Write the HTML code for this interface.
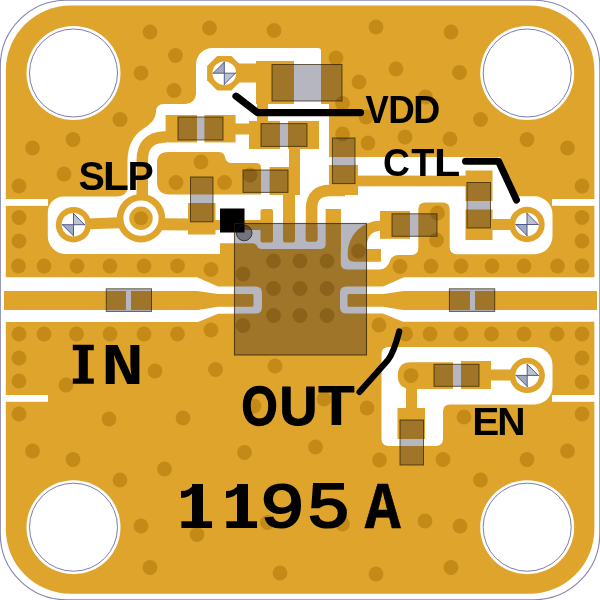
<!DOCTYPE html>
<html><head><meta charset="utf-8"><title>1195A evaluation board</title>
<style>
html,body{margin:0;padding:0;background:#fff;}
body{width:600px;height:600px;overflow:hidden;font-family:"Liberation Sans",sans-serif;}
svg{display:block;}
</style></head><body>
<svg width="600" height="600" viewBox="0 0 600 600">
<defs><filter id="soft" x="-2%" y="-2%" width="104%" height="104%" color-interpolation-filters="sRGB"><feGaussianBlur stdDeviation="0.42"/></filter></defs>
<rect width="600" height="600" fill="#fff"/>
<g filter="url(#soft)">
<rect x="0.3" y="0.3" width="599.5" height="599.5" rx="66" ry="66" fill="#fff" stroke="#8585B0" stroke-width="1.1"/>
<rect x="5.8" y="5.5" width="588.6" height="588.3" rx="65" ry="65" fill="#DEA42C"/>
<g fill="#fff"><circle cx="73.5" cy="73" r="47"/>
<circle cx="527.2" cy="73" r="47"/>
<circle cx="73.5" cy="527.2" r="47"/>
<circle cx="527.2" cy="527.2" r="47"/>
<rect x="4" y="199" width="44" height="6.8"/>
<rect x="552" y="199" width="44" height="6.8"/>
<rect x="4" y="395" width="44" height="6.8"/>
<rect x="552" y="395" width="44" height="6.8"/>
<path d="M4,277.3 L197,277.3 L218,286.4 L255.5,286.6 Q262,286.6 262,293 L262,307 Q262,313.6 255.5,313.6 L218,313.8 L198,322 L4,322 Z"/>
<path d="M597,277.3 L404,277.3 L383,286.4 L346.5,286.6 Q340,286.6 340,293 L340,307 Q340,313.6 346.5,313.6 L383,313.6 L403,321.8 L597,321.8 Z"/>
<path d="M212.5,48 L318,48 Q321,48 321,51 L321,104 L329,104 L329,157 L500,157 L516,196.3 L534.5,196.3 A18,18 0 0 1 552.5,214.3 L552.5,236.2 A18,18 0 0 1 534.5,254.2 L457,254.2 Q449.7,254.2 449.7,247 L449.7,209.5 Q449.7,202.5 442.7,202.5 L425.3,202.5 Q418.3,202.5 418.3,209.5 L418.3,248 Q418.3,255 411.3,255 L399,255 Q392,255 390,260.5 Q387.5,269.5 379,269.5 L347,269.5 Q340.8,269.5 340.8,263 L340.8,209 L325.8,209 L325.8,244 Q325.8,249 320,249 L262,249 Q258,249 257,246 Q256,243.3 252,243.3 L220,243.3 L220,254 L65.8,254 A18,18 0 0 1 47.8,236 L47.8,212.4 A16,16 0 0 1 63.8,196.4 L117,196.4 Q127.5,196.3 127.5,186 L127.5,160 Q128,139 143,129 Q156,121 156,112 Q156,104 164,104 L185.5,104 A10.5,10.5 0 0 0 196,93.5 L196,64.5 A16.5,16.5 0 0 1 212.5,48 Z"/>
<path d="M389,347 L534.5,347 A18,18 0 0 1 552.5,365 L552.5,386.4 A18,18 0 0 1 534.5,404.4 L450,404.4 Q443,404.4 443,411.5 L443,438.5 Q443,446 435.5,446 L389,446 Q381.5,446 381.5,438.5 L381.5,354 Q381.5,347 389,347 Z"/></g>
<g fill="#DEA42C"><path d="M4,291 L126,291 L126,310 L4,310 Z"/>
<path d="M131,291 L197,291 L218,294.1 L252,294.1 Q253.5,294.1 253.5,295.6 L253.5,305.2 Q253.5,306.7 252,306.7 L218,306.7 L198,310 L131,310 Z"/>
<path d="M597,291 L475,291 L475,310 L597,310 Z"/>
<path d="M470,291 L404,291 L383,294.1 L349,294.1 Q347.5,294.1 347.5,295.6 L347.5,305.2 Q347.5,306.7 349,306.7 L383,306.7 L403,310 L470,310 Z"/>
<polygon points="241.50,80.32 231.42,90.40 217.18,90.40 207.10,80.32 207.10,66.08 217.18,56.00 231.42,56.00 241.50,66.08"/>
<rect x="225" y="63.5" width="33" height="19.0" rx="0"/>
<rect x="256" y="61" width="38" height="43" rx="0"/>
<rect x="257" y="104" width="11" height="18" rx="0"/>
<rect x="249" y="121" width="31" height="28" rx="0"/>
<rect x="288" y="121" width="31" height="28" rx="0"/>
<rect x="235" y="123.5" width="15" height="11.0" rx="0"/>
<rect x="165.6" y="115" width="31.4" height="27.4" rx="0"/>
<rect x="204.4" y="115" width="31.2" height="27.4" rx="0"/>
<path d="M166,137 L164,137 Q142.3,138 142.3,160 L142.3,200" fill="none" stroke="#DEA42C" stroke-width="11.5" stroke-linecap="butt" stroke-linejoin="round"/>
<circle cx="141" cy="218.2" r="24.2"/>
<circle cx="73.5" cy="224.7" r="17.7"/>
<path d="M73.5,224.4 L141,222" fill="none" stroke="#DEA42C" stroke-width="10.8" stroke-linecap="butt" stroke-linejoin="round"/>
<path d="M141,224 L190,224.5" fill="none" stroke="#DEA42C" stroke-width="12" stroke-linecap="butt" stroke-linejoin="round"/>
<rect x="188" y="203" width="27.5" height="31.5" rx="0"/>
<rect x="215" y="220" width="47" height="10" rx="0"/>
<rect x="260.5" y="209" width="12.5" height="33.5" rx="2"/>
<rect x="283" y="190" width="12" height="52.5" rx="2"/>
<rect x="289" y="149" width="11" height="46" rx="0"/>
<rect x="269.6" y="167" width="30.4" height="28" rx="0"/>
<path d="M311.6,240 L311.6,208 Q312,190.5 330,190.5 L345,190.5" fill="none" stroke="#DEA42C" stroke-width="11.6" stroke-linecap="butt" stroke-linejoin="round"/>
<rect x="305.8" y="225" width="11.6" height="16.8" rx="2"/>
<rect x="329" y="165" width="29" height="30" rx="0"/>
<rect x="357" y="175.6" width="109" height="10.7" rx="0"/>
<rect x="465.5" y="170.5" width="27.0" height="30.5" rx="0"/>
<rect x="465.5" y="209.5" width="27.0" height="30.5" rx="0"/>
<rect x="492" y="219" width="35" height="11" rx="0"/>
<circle cx="527" cy="224.5" r="17.7"/>
<rect x="380" y="211" width="30" height="27.8" rx="0"/>
<path d="M381,220.7 L380,220.7 A32.3,32.3 0 0 0 347.7,253 L347.7,255.5 Q347.7,261.7 354,261.7 L381,261.7 L381,249 L366.7,249 L366.7,246 Q367.5,231.5 380,230.8 L381,230.8 Z"/>
<rect x="325.8" y="209" width="15.0" height="41" rx="0"/>
<path d="M168,152 L218,152 Q224,152 225,157 Q226,163 232,163 L256,163 Q261,163 261,168 L261,194.5 L170,194.5 Q157,194.5 157,182 L157,163 Q157,152 168,152 Z"/>
<circle cx="527.2" cy="375.4" r="17.7"/>
<rect x="490" y="369.5" width="37" height="11.0" rx="0"/>
<rect x="461" y="361" width="30" height="28" rx="0"/>
<path d="M411,362.3 L453,362.3 L453,389 L411,389 Q397.8,389 397.8,375.6 Q397.8,362.3 411,362.3 Z"/>
<rect x="406" y="388" width="11" height="21" rx="0"/>
<rect x="397.5" y="408" width="27.5" height="31" rx="0"/></g>
<circle cx="224.3" cy="73.2" r="11.8" fill="#fff"/><path d="M213.20000000000002,73.2 L224.3,62.1 L224.3,73.2 Z" fill="#A3AAC0"/><path d="M235.4,73.2 L224.3,84.3 L224.3,73.2 Z" fill="#BDC2D0"/><path d="M213.20000000000002,73.2 L235.4,73.2 M224.3,62.1 L224.3,84.3 M213.20000000000002,73.2 L224.3,62.1 M235.4,73.2 L224.3,84.3" fill="none" stroke="#4A5588" stroke-width="0.95" stroke-linecap="round"/>
<circle cx="73.5" cy="224.7" r="11.8" fill="#fff"/><path d="M62.4,224.7 L73.5,235.79999999999998 L73.5,224.7 Z" fill="#A3AAC0"/><path d="M84.6,224.7 L73.5,213.6 L73.5,224.7 Z" fill="#BDC2D0"/><path d="M62.4,224.7 L84.6,224.7 M73.5,213.6 L73.5,235.79999999999998 M62.4,224.7 L73.5,235.79999999999998 M84.6,224.7 L73.5,213.6" fill="none" stroke="#4A5588" stroke-width="0.95" stroke-linecap="round"/>
<circle cx="527" cy="224.5" r="11.8" fill="#fff"/><path d="M515.9,224.5 L527,235.6 L527,224.5 Z" fill="#A3AAC0"/><path d="M538.1,224.5 L527,213.4 L527,224.5 Z" fill="#BDC2D0"/><path d="M515.9,224.5 L538.1,224.5 M527,213.4 L527,235.6 M515.9,224.5 L527,235.6 M538.1,224.5 L527,213.4" fill="none" stroke="#4A5588" stroke-width="0.95" stroke-linecap="round"/>
<circle cx="527.2" cy="375.4" r="11.8" fill="#fff"/><path d="M516.1,375.4 L527.2,386.5 L527.2,375.4 Z" fill="#A3AAC0"/><path d="M538.3000000000001,375.4 L527.2,364.29999999999995 L527.2,375.4 Z" fill="#BDC2D0"/><path d="M516.1,375.4 L538.3000000000001,375.4 M527.2,364.29999999999995 L527.2,386.5 M516.1,375.4 L527.2,386.5 M538.3000000000001,375.4 L527.2,364.29999999999995" fill="none" stroke="#4A5588" stroke-width="0.95" stroke-linecap="round"/>
<circle cx="141" cy="218.2" r="14.65" fill="none" stroke="#fff" stroke-width="5.9"/>
<circle cx="73.5" cy="73" r="44" fill="none" stroke="#7E7EAA" stroke-width="1"/>
<circle cx="527.2" cy="73" r="44" fill="none" stroke="#7E7EAA" stroke-width="1"/>
<circle cx="73.5" cy="527.2" r="44" fill="none" stroke="#7E7EAA" stroke-width="1"/>
<circle cx="527.2" cy="527.2" r="44" fill="none" stroke="#7E7EAA" stroke-width="1"/>
<g fill="#C38A17"><circle cx="150" cy="32" r="7.4"/><circle cx="209.5" cy="28" r="7.4"/><circle cx="274" cy="30.5" r="7.4"/><circle cx="376" cy="27" r="7.4"/><circle cx="451" cy="32" r="7.4"/><circle cx="141" cy="73" r="7.4"/><circle cx="175.5" cy="55.5" r="7.4"/><circle cx="174" cy="90.5" r="7.4"/><circle cx="336" cy="58" r="7.4"/><circle cx="396" cy="69" r="7.4"/><circle cx="359" cy="82" r="7.4"/><circle cx="459.5" cy="72.5" r="7.4"/><circle cx="120" cy="119.5" r="7.4"/><circle cx="73" cy="139.5" r="7.4"/><circle cx="32.5" cy="148" r="7.4"/><circle cx="425.5" cy="97" r="7.4"/><circle cx="342.5" cy="103.5" r="7.4"/><circle cx="366" cy="117" r="7.4"/><circle cx="342.5" cy="134" r="7.4"/><circle cx="405" cy="137" r="7.4"/><circle cx="368" cy="143" r="7.4"/><circle cx="450" cy="139" r="7.4"/><circle cx="480.5" cy="119.5" r="7.4"/><circle cx="527" cy="139.5" r="7.4"/><circle cx="567.5" cy="148" r="7.4"/><circle cx="64" cy="174" r="7.4"/><circle cx="19" cy="186" r="7.4"/><circle cx="19" cy="217.5" r="7.4"/><circle cx="19" cy="241" r="7.4"/><circle cx="18.5" cy="266" r="7.4"/><circle cx="44" cy="266" r="7.4"/><circle cx="77" cy="266" r="7.4"/><circle cx="110" cy="266" r="7.4"/><circle cx="144" cy="266" r="7.4"/><circle cx="177.5" cy="265.8" r="7.4"/><circle cx="211" cy="269.5" r="7.4"/><circle cx="201" cy="162" r="7.4"/><circle cx="176" cy="182.5" r="7.4"/><circle cx="224.5" cy="182.5" r="7.4"/><circle cx="250" cy="175" r="7.4"/><circle cx="582" cy="186" r="7.4"/><circle cx="582" cy="217.5" r="7.4"/><circle cx="582" cy="241" r="7.4"/><circle cx="582" cy="266" r="7.4"/><circle cx="557.5" cy="266" r="7.4"/><circle cx="524" cy="266" r="7.4"/><circle cx="492" cy="266" r="7.4"/><circle cx="461" cy="266" r="7.4"/><circle cx="431" cy="266.2" r="7.4"/><circle cx="400" cy="266.5" r="7.4"/><circle cx="437.5" cy="213" r="7.4"/><circle cx="436.5" cy="240" r="7.4"/><circle cx="273.5" cy="261" r="7.4"/><circle cx="300" cy="261" r="7.4"/><circle cx="327" cy="261" r="7.4"/><circle cx="273.5" cy="288.5" r="7.4"/><circle cx="300" cy="288.5" r="7.4"/><circle cx="327" cy="288.5" r="7.4"/><circle cx="273.5" cy="315.5" r="7.4"/><circle cx="300" cy="315.5" r="7.4"/><circle cx="327" cy="315.5" r="7.4"/><circle cx="243" cy="274" r="7.4"/><circle cx="243" cy="325.5" r="7.4"/><circle cx="358.5" cy="251" r="7.4"/><circle cx="19" cy="334" r="7.4"/><circle cx="44" cy="334" r="7.4"/><circle cx="76.5" cy="334" r="7.4"/><circle cx="110" cy="334" r="7.4"/><circle cx="144" cy="334" r="7.4"/><circle cx="177.5" cy="334" r="7.4"/><circle cx="211" cy="330" r="7.4"/><circle cx="379" cy="325" r="7.4"/><circle cx="405.5" cy="334" r="7.4"/><circle cx="430" cy="334" r="7.4"/><circle cx="461" cy="334" r="7.4"/><circle cx="491.5" cy="334" r="7.4"/><circle cx="524" cy="334" r="7.4"/><circle cx="557" cy="334" r="7.4"/><circle cx="582" cy="334" r="7.4"/><circle cx="19" cy="358" r="7.4"/><circle cx="19" cy="381" r="7.4"/><circle cx="66" cy="385" r="7.4"/><circle cx="19" cy="414" r="7.4"/><circle cx="109" cy="419" r="7.4"/><circle cx="32.5" cy="451" r="7.4"/><circle cx="582" cy="358" r="7.4"/><circle cx="582" cy="382" r="7.4"/><circle cx="582" cy="414" r="7.4"/><circle cx="464" cy="417" r="7.4"/><circle cx="567.5" cy="451" r="7.4"/><circle cx="155" cy="371" r="7.4"/><circle cx="215.5" cy="369.5" r="7.4"/><circle cx="275" cy="366" r="7.4"/><circle cx="183" cy="418" r="7.4"/><circle cx="254" cy="406" r="7.4"/><circle cx="244.5" cy="452.5" r="7.4"/><circle cx="411" cy="375.6" r="7.4"/><circle cx="324" cy="399" r="7.4"/><circle cx="367" cy="408" r="7.4"/><circle cx="315.5" cy="447" r="7.4"/><circle cx="73" cy="459.5" r="7.4"/><circle cx="120" cy="480" r="7.4"/><circle cx="141" cy="526" r="7.4"/><circle cx="150" cy="567.5" r="7.4"/><circle cx="164.5" cy="469" r="7.4"/><circle cx="197" cy="534.5" r="7.4"/><circle cx="267.5" cy="522.5" r="7.4"/><circle cx="280" cy="573" r="7.4"/><circle cx="379.5" cy="460" r="7.4"/><circle cx="443" cy="459.5" r="7.4"/><circle cx="425" cy="521" r="7.4"/><circle cx="342.5" cy="524" r="7.4"/><circle cx="376" cy="574" r="7.4"/><circle cx="451" cy="567.5" r="7.4"/><circle cx="527" cy="459.5" r="7.4"/><circle cx="480.5" cy="480" r="7.4"/><circle cx="460" cy="526" r="7.4"/><circle cx="141" cy="218.2" r="7"/></g>
<g fill="rgba(0,0,35,0.285)" stroke="rgba(45,28,0,0.7)" stroke-width="1"><rect x="272" y="64.5" width="70" height="36.5"/><rect x="178" y="117" width="45" height="23"/><rect x="261" y="123.6" width="46" height="22.8"/><rect x="332.4" y="138" width="22.6" height="45.6"/><rect x="243" y="170" width="45" height="22.4"/><rect x="190.5" y="177" width="22.5" height="44.8"/><rect x="467" y="182.5" width="23.5" height="45.5"/><rect x="392" y="213.8" width="45" height="22.5"/><rect x="434" y="364.3" width="45" height="22.0"/><rect x="400" y="420" width="23.5" height="45"/><rect x="106.3" y="288.8" width="45.2" height="22.6"/><rect x="449.4" y="288.8" width="45.3" height="22.6"/></g>
<rect x="220" y="208.5" width="24.5" height="24" fill="#000"/>
<rect x="234.5" y="223.5" width="132" height="131.5" fill="rgba(0,0,35,0.285)" stroke="rgba(45,28,0,0.72)" stroke-width="1.1"/>
<circle cx="244.2" cy="233" r="7.8" fill="rgba(0,0,10,0.36)" stroke="rgba(20,20,25,0.8)" stroke-width="0.9"/>
<g fill="none" stroke="#000" stroke-linecap="round" stroke-linejoin="round"><path d="M236,96.2 L257.5,112.6 L360.5,112.6" stroke-width="7.2"/><path d="M465.5,161.3 L498.5,161.3 L516.5,200" stroke-width="7"/><path d="M399.2,331.5 Q394,352 388,360 L359.5,392" stroke-width="6.2"/></g>
<g><text transform="translate(78.52,189.50) scale(0.3946,0.4112)" font-family="'Liberation Sans', sans-serif" font-weight="bold" font-size="100px" fill="#000">S</text>
<text transform="translate(102.92,189.50) scale(0.4238,0.4099)" font-family="'Liberation Sans', sans-serif" font-weight="bold" font-size="100px" fill="#000">L</text>
<text transform="translate(127.62,189.50) scale(0.3936,0.4099)" font-family="'Liberation Sans', sans-serif" font-weight="bold" font-size="100px" fill="#000">P</text>
<text transform="translate(365.42,123.30) scale(0.3497,0.3859)" font-family="'Liberation Sans', sans-serif" font-weight="bold" font-size="100px" fill="#000">V</text>
<text transform="translate(388.20,123.30) scale(0.3676,0.3859)" font-family="'Liberation Sans', sans-serif" font-weight="bold" font-size="100px" fill="#000">D</text>
<text transform="translate(413.26,123.30) scale(0.3742,0.3859)" font-family="'Liberation Sans', sans-serif" font-weight="bold" font-size="100px" fill="#000">D</text>
<text transform="translate(383.11,176.30) scale(0.3725,0.3954)" font-family="'Liberation Sans', sans-serif" font-weight="bold" font-size="100px" fill="#000">C</text>
<text transform="translate(411.22,176.30) scale(0.3797,0.3939)" font-family="'Liberation Sans', sans-serif" font-weight="bold" font-size="100px" fill="#000">T</text>
<text transform="translate(434.08,176.30) scale(0.4297,0.3939)" font-family="'Liberation Sans', sans-serif" font-weight="bold" font-size="100px" fill="#000">L</text>
<text transform="translate(472.13,434.60) scale(0.4071,0.3968)" font-family="'Liberation Sans', sans-serif" font-weight="bold" font-size="100px" fill="#000">E</text>
<text transform="translate(497.34,434.60) scale(0.3918,0.3968)" font-family="'Liberation Sans', sans-serif" font-weight="bold" font-size="100px" fill="#000">N</text>
<path d="M72.8,344.8 H93.8 V350.2 H87.8 V378.4 H93.8 V383.8 H72.8 V378.4 H78.8 V350.2 H72.8 Z" fill="#000"/>
<text transform="translate(101.03,383.75) scale(0.7191,0.5927)" font-family="'Liberation Mono', monospace" font-weight="bold" font-size="100px" fill="#000">N</text>
<text transform="translate(241.39,424.95) scale(0.4647,0.5473)" font-family="'Liberation Sans', sans-serif" font-weight="bold" font-size="100px" fill="#000" stroke="#000" stroke-width="2.58" stroke-linejoin="round">O</text>
<text transform="translate(279.55,425.10) scale(0.5250,0.5494)" font-family="'Liberation Sans', sans-serif" font-weight="bold" font-size="100px" fill="#000" stroke="#000" stroke-width="1.86" stroke-linejoin="round">U</text>
<text transform="translate(316.41,425.40) scale(0.6630,0.5866)" font-family="'Liberation Mono', monospace" font-weight="bold" font-size="100px" fill="#000">T</text>
<text transform="translate(176.70,527.60) scale(0.6327,0.6717)" font-family="'Liberation Mono', monospace" font-weight="bold" font-size="100px" fill="#000">1</text>
<text transform="translate(221.70,527.60) scale(0.6327,0.6717)" font-family="'Liberation Mono', monospace" font-weight="bold" font-size="100px" fill="#000">1</text>
<text transform="translate(259.87,526.65) scale(0.7543,0.6373)" font-family="'Liberation Mono', monospace" font-weight="normal" font-size="100px" fill="#000" stroke="#000" stroke-width="3.32" stroke-linejoin="miter">9</text>
<text transform="translate(306.62,526.75) scale(0.7305,0.6423)" font-family="'Liberation Mono', monospace" font-weight="normal" font-size="100px" fill="#000" stroke="#000" stroke-width="3.36" stroke-linejoin="miter">5</text>
<text transform="translate(364.75,527.95) scale(0.5983,0.6717)" font-family="'Liberation Mono', monospace" font-weight="bold" font-size="100px" fill="#000" stroke="#000" stroke-width="1.10" stroke-linejoin="round">A</text>
<rect x="192" y="484" width="11" height="43.6" fill="#000"/>
<rect x="237" y="484" width="11" height="43.6" fill="#000"/></g>
</g>
</svg>
</body></html>
